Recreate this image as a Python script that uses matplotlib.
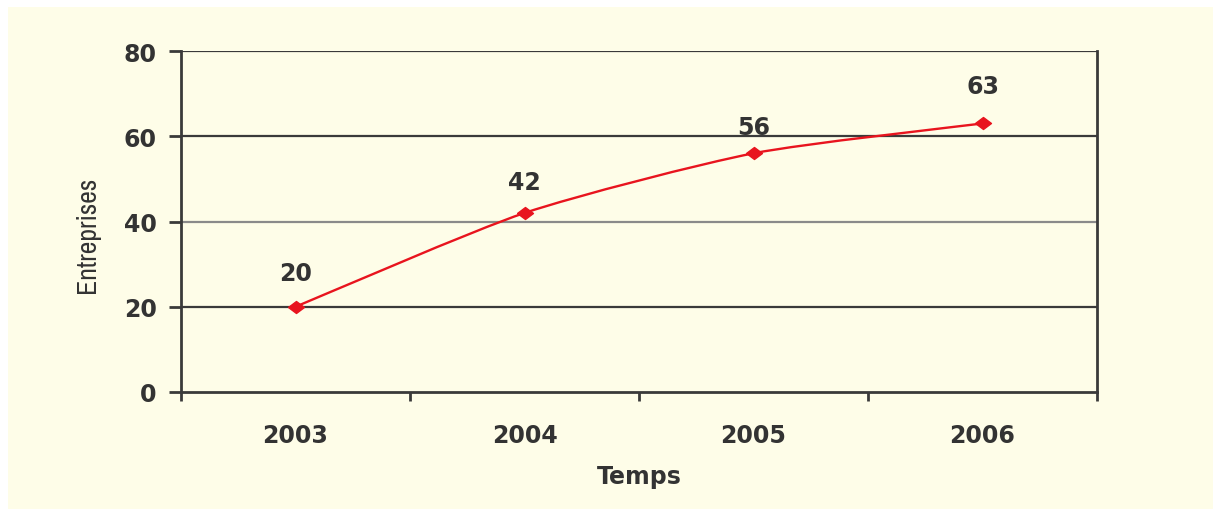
import matplotlib.pyplot as plt
from matplotlib.path import Path
from matplotlib.patches import PathPatch, Rectangle
import numpy as np

# donnees du graphique
annees = ["2003", "2004", "2005", "2006"]
entreprises = [20, 42, 56, 63]
y_ticks = [0, 20, 40, 60, 80]

fond = "#FEFDE8"
texte = "#333333"
rouge = "#E8141E"

fig = plt.figure(figsize=(12.13, 5.10), dpi=100)
fig.patch.set_facecolor("white")
# zone creme (petite marge blanche en haut et a gauche)
fig.patches.append(Rectangle((8 / 1213, 0), 1, 1 - 8 / 510, transform=fig.transFigure,
                             facecolor=fond, edgecolor="none", zorder=-10))

ax = fig.add_axes([181 / 1213, 1 - 393 / 510, (1097 - 181) / 1213, (393 - 52) / 510])
ax.set_facecolor(fond)

x = np.arange(len(annees))
ax.set_xlim(-0.5, len(annees) - 0.5)
ax.set_ylim(0, 80)

# lignes horizontales (celle de 40 est plus claire)
for v in y_ticks[1:]:
    c = "#8a8a8a" if v == 40 else "#3a3a3a"
    ax.axhline(v, color=c, lw=1.6, zorder=1)

for s in ["left", "bottom", "right"]:
    ax.spines[s].set_color("#3a3a3a")
    ax.spines[s].set_linewidth(2)
ax.spines["top"].set_visible(False)

# courbe lissee (style Excel) : bezier passant par les points
pts = np.column_stack([x, entreprises]).astype(float)
ext = np.vstack([pts[0], pts, pts[-1]])
verts = [tuple(pts[0])]
codes = [Path.MOVETO]
for i in range(len(pts) - 1):
    p0, p1, p2, p3 = ext[i], ext[i + 1], ext[i + 2], ext[i + 3]
    c1 = p1 + (p2 - p0) / 9
    c2 = p2 - (p3 - p1) / 9
    verts += [tuple(c1), tuple(c2), tuple(p2)]
    codes += [Path.CURVE4] * 3
ax.add_patch(PathPatch(Path(verts, codes), facecolor="none", edgecolor=rouge, lw=1.7, zorder=3))

losange = [(-1, 0), (0, 0.75), (1, 0), (0, -0.75), (-1, 0)]
ax.plot(x, entreprises, linestyle="none", marker=losange, markersize=11.5,
        color=rouge, zorder=4)

decal = [24, 22, 19, 27]
for xi, v, d in zip(x, entreprises, decal):
    ax.annotate(str(v), (xi, v), xytext=(0, d), textcoords="offset points",
                ha="center", va="center", fontsize=17, fontweight="bold", color=texte)

# graduations
ax.set_yticks(y_ticks)
ax.tick_params(axis="y", length=8.5, width=2, color="#3a3a3a", pad=9,
               labelsize=17, labelcolor=texte)
for lab in ax.get_yticklabels():
    lab.set_fontweight("bold")

ax.set_xticks(np.arange(-0.5, len(annees), 1.0))
ax.set_xticklabels([])
ax.tick_params(axis="x", which="major", length=6.5, width=2, color="#3a3a3a")
ax.set_xticks(x, minor=True)
ax.set_xticklabels(annees, minor=True, fontsize=17, fontweight="bold", color=texte)
ax.tick_params(axis="x", which="minor", length=0, pad=22)

fig.text(639 / 1213, 1 - 477 / 510, "Temps", ha="center", va="center",
         fontsize=17, fontweight="bold", color=texte)
fig.text(88 / 1213, 1 - 235 / 510, "Entreprises", rotation=90, ha="center", va="center",
         fontsize=20, color=texte,
         family=["Liberation Sans Narrow", "Archivo Narrow", "DejaVu Sans"])

fig.savefig("out.png", dpi=100, facecolor=fig.get_facecolor())
